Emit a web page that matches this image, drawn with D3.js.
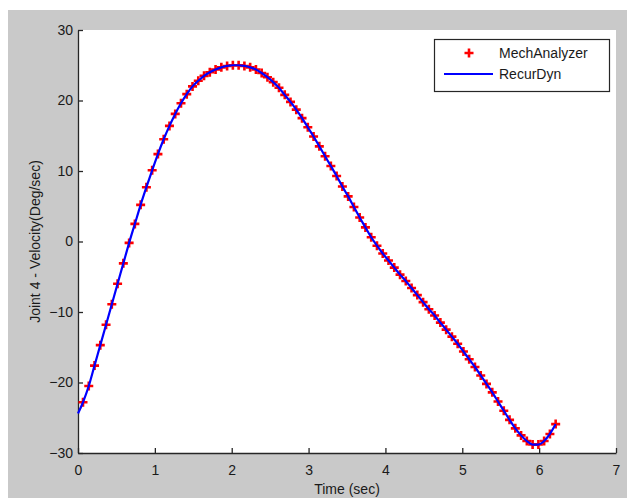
<!DOCTYPE html>
<html><head><meta charset="utf-8">
<script src="https://cdn.jsdelivr.net/npm/d3@7/dist/d3.min.js"></script>
<style>html,body{margin:0;padding:0;background:#fff;}svg{display:block;}</style>
</head><body>
<script>
// ---- data ----
const mechTime = [0.065,0.140,0.215,0.290,0.365,0.440,0.515,0.590,0.665,0.740,0.815,0.890,0.965,1.040,1.115,1.190,1.265,1.340,1.415,1.490,1.565,1.640,1.715,1.790,1.865,1.940,2.015,2.090,2.165,2.240,2.315,2.390,2.465,2.540,2.615,2.690,2.765,2.840,2.915,2.990,3.065,3.140,3.215,3.290,3.365,3.440,3.515,3.590,3.665,3.740,3.815,3.890,3.965,4.040,4.115,4.190,4.265,4.340,4.415,4.490,4.565,4.640,4.715,4.790,4.865,4.940,5.015,5.090,5.165,5.240,5.315,5.390,5.465,5.540,5.615,5.690,5.765,5.840,5.915,5.990,6.065,6.140,6.215];
const mechValue = [-22.8,-20.5,-17.6,-14.7,-11.8,-8.9,-6.0,-3.1,-0.2,2.5,5.2,7.7,10.1,12.4,14.5,16.4,18.1,19.6,20.9,22.0,22.8,23.5,24.0,24.4,24.7,24.9,25.0,25.0,24.9,24.7,24.4,23.9,23.3,22.6,21.8,20.8,19.8,18.7,17.5,16.2,14.9,13.5,12.1,10.7,9.3,7.8,6.4,4.9,3.4,2.0,0.6,-0.6,-1.7,-2.7,-3.7,-4.7,-5.6,-6.6,-7.6,-8.6,-9.6,-10.5,-11.5,-12.5,-13.5,-14.5,-15.6,-16.7,-17.8,-19.0,-20.2,-21.4,-22.7,-24.0,-25.3,-26.5,-27.5,-28.3,-28.8,-28.8,-28.3,-27.3,-25.9];
const recurTime = [0.000,0.065,0.140,0.215,0.290,0.365,0.440,0.515,0.590,0.665,0.740,0.815,0.890,0.965,1.040,1.115,1.190,1.265,1.340,1.415,1.490,1.565,1.640,1.715,1.790,1.865,1.940,2.015,2.090,2.165,2.240,2.315,2.390,2.465,2.540,2.615,2.690,2.765,2.840,2.915,2.990,3.065,3.140,3.215,3.290,3.365,3.440,3.515,3.590,3.665,3.740,3.815,3.890,3.965,4.040,4.115,4.190,4.265,4.340,4.415,4.490,4.565,4.640,4.715,4.790,4.865,4.940,5.015,5.090,5.165,5.240,5.315,5.390,5.465,5.540,5.615,5.690,5.765,5.840,5.915,5.990,6.065,6.140,6.215];
const recurValue = [-24.4,-22.8,-20.5,-17.6,-14.7,-11.8,-8.9,-6.0,-3.1,-0.2,2.5,5.2,7.7,10.1,12.4,14.5,16.4,18.1,19.6,20.9,22.0,22.8,23.5,24.0,24.4,24.7,24.9,25.0,25.0,24.9,24.7,24.4,23.9,23.3,22.6,21.8,20.8,19.8,18.7,17.5,16.2,14.9,13.5,12.1,10.7,9.3,7.8,6.4,4.9,3.4,2.0,0.6,-0.6,-1.7,-2.7,-3.7,-4.7,-5.6,-6.6,-7.6,-8.6,-9.6,-10.5,-11.5,-12.5,-13.5,-14.5,-15.6,-16.7,-17.8,-19.0,-20.2,-21.4,-22.7,-24.0,-25.3,-26.5,-27.5,-28.3,-28.8,-28.8,-28.3,-27.3,-25.9];
const xTicks = [0,1,2,3,4,5,6,7];
const yTicks = [-30,-20,-10,0,10,20,30];
const seriesNames = ["MechAnalyzer","RecurDyn"];
const xTitle = "Time (sec)";
const yTitle = "Joint 4 - Velocity(Deg/sec)";

// ---- layout ----
const W = 627, H = 498;
const L = 78, R = 616, T = 30, B = 453;
const font = "'Liberation Sans', Arial, sans-serif";
const axisColor = "#262626";

const svg = d3.select("body").append("svg").attr("width", W).attr("height", H);
svg.append("rect").attr("x", 8).attr("y", 10).attr("width", W - 8).attr("height", H - 10).attr("fill", "#c9c9c9");
svg.append("rect").attr("x", L).attr("y", T).attr("width", R - L).attr("height", B - T).attr("fill", "#fff");

const x = d3.scaleLinear().domain([0, 7]).range([L, R]);
const y = d3.scaleLinear().domain([-30, 30]).range([B, T]);

// axes
const xAxis = svg.append("g").attr("transform", `translate(0,${B})`)
  .call(d3.axisBottom(x).tickValues(xTicks).tickSizeInner(-5).tickSizeOuter(0).tickPadding(9).tickFormat(d3.format("d")));
const yAxis = svg.append("g").attr("transform", `translate(${L},0)`)
  .call(d3.axisLeft(y).tickValues(yTicks).tickSizeInner(-5).tickSizeOuter(0).tickPadding(9).tickFormat(d3.format("d")));
[xAxis, yAxis].forEach(g => {
  g.select(".domain").attr("stroke", axisColor).attr("stroke-width", 1.3);
  g.selectAll(".tick line").attr("stroke", axisColor).attr("stroke-width", 1.3);
  g.selectAll(".tick text").attr("fill", "#1a1a1a").style("font-family", font).style("font-size", "14px");
});
xAxis.selectAll(".tick text").attr("dy", "0.9em");
yAxis.selectAll(".tick text").attr("x", -5);

// markers (red plus)
const plus = (sz) => `M${-sz},0H${sz}M0,${-sz}V${sz}`;
const ptsData = mechTime.map((t, i) => [t, mechValue[i]]);
svg.append("g").selectAll("path").data(ptsData).join("path")
  .attr("transform", d => `translate(${x(d[0])},${y(d[1])})`)
  .attr("d", plus(4.5)).attr("stroke", "#ff0000").attr("stroke-width", 2.6).attr("fill", "none");

// line (blue)
const lineData = recurTime.map((t, i) => [t, recurValue[i]]);
svg.append("path").datum(lineData)
  .attr("d", d3.line().x(d => x(d[0])).y(d => y(d[1])).curve(d3.curveMonotoneX))
  .attr("fill", "none").attr("stroke", "#0000ff").attr("stroke-width", 2.2);

// axis titles
svg.append("text").attr("x", (L + R) / 2).attr("y", 494).attr("text-anchor", "middle")
  .style("font-family", font).style("font-size", "14px").attr("fill", "#1a1a1a").text(xTitle);
svg.append("text").attr("transform", `translate(40,${(T + B) / 2}) rotate(-90)`).attr("text-anchor", "middle")
  .style("font-family", font).style("font-size", "14px").attr("fill", "#1a1a1a").text(yTitle);

// legend
const lg = svg.append("g");
lg.append("rect").attr("x", 434.5).attr("y", 39.5).attr("width", 175).attr("height", 52)
  .attr("fill", "#fff").attr("stroke", axisColor).attr("stroke-width", 1.2);
lg.append("path").attr("transform", "translate(469,53)").attr("d", plus(4.5))
  .attr("stroke", "#ff0000").attr("stroke-width", 2.6);
lg.append("line").attr("x1", 444).attr("x2", 493).attr("y1", 74).attr("y2", 74)
  .attr("stroke", "#0000ff").attr("stroke-width", 2.2);
lg.selectAll("text.lt").data(seriesNames).join("text").attr("class", "lt")
  .attr("x", 499).attr("y", (d, i) => 58 + i * 21)
  .style("font-family", font).style("font-size", "14px").attr("fill", "#1a1a1a").text(d => d);
</script>
</body></html>
